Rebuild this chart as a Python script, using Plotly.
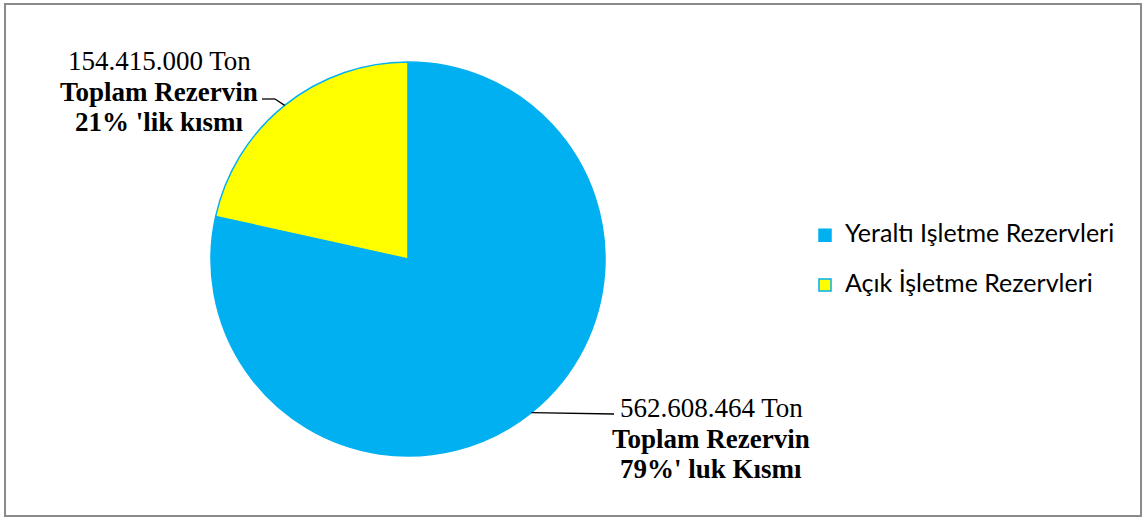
import math
import plotly.graph_objects as go

# ---- data ----
categories = ["Yeraltı Işletme Rezervleri", "Açık İşletme Rezervleri"]
values = [562608464, 154415000]
colors = ["#00B0F0", "#FFFF00"]
label_titles = ["Toplam Rezervin", "Toplam Rezervin"]
label_shares = ["79%' luk Kısmı", "21% 'lik kısmı"]

W, H = 1144, 518
CX, CY, R = 408, 259, 197  # pie centre / radius in pixels


def px(x):
    return x / W


def py(y):
    return 1 - y / H


def fmt_ton(v):
    return f"{v:,}".replace(",", ".") + " Ton"


fig = go.Figure()
fig.add_trace(go.Pie(
    labels=[f"<span style='font-size:25px'>{c}</span><br>\u00a0" for c in categories],
    values=values,
    sort=False,
    direction="clockwise",
    rotation=0,
    textinfo="none",
    hoverinfo="skip",
    marker=dict(colors=colors, line=dict(color="#00B0F0", width=1.5)),
    domain=dict(x=[px(CX - R), px(CX + R)], y=[py(CY + R), py(CY - R)]),
))

# label positions (text centres in pixels) and leader elbows
label_pos = [(711, 407), (159, 60)]
elbows = [[(614, 414)], [(275, 99), (262, 99)]]

total = sum(values)
start = 0.0
annotations = []
shapes = []
serif = "Liberation Serif, Times New Roman, serif"
for i, v in enumerate(values):
    frac = v / total
    mid = (start + frac / 2) * 2 * math.pi
    start += frac
    ax = CX + R * math.sin(mid)
    ay = CY - R * math.cos(mid)
    pts = [(ax, ay)] + elbows[i]
    for (x0, y0), (x1, y1) in zip(pts[:-1], pts[1:]):
        shapes.append(dict(type="line", xref="paper", yref="paper",
                           x0=px(x0), y0=py(y0), x1=px(x1), y1=py(y1),
                           line=dict(color="black", width=1.3)))
    lx, ly = label_pos[i]
    lines = [(fmt_ton(v), False), (label_titles[i], True), (label_shares[i], True)]
    for k, (t, bold) in enumerate(lines):
        annotations.append(dict(
            x=px(lx), y=py(ly + k * 30.5 + 1), xref="paper", yref="paper",
            text=f"<b>{t}</b>" if bold else t, showarrow=False,
            xanchor="center", yanchor="middle",
            font=dict(family=serif, size=27, color="black"),
        ))

# chart border
shapes.append(dict(type="rect", xref="paper", yref="paper",
                   x0=px(5), x1=px(1141), y0=py(516), y1=py(4),
                   line=dict(color="#8a8a8a", width=2)))

fig.update_layout(
    width=W, height=H,
    margin=dict(l=0, r=0, t=0, b=0),
    paper_bgcolor="white",
    plot_bgcolor="white",
    showlegend=True,
    legend=dict(
        x=px(805), y=py(272), xanchor="left", yanchor="middle",
        font=dict(family="Lato, Carlito, Calibri, sans-serif", size=18, color="black"),
        valign="top", traceorder="normal",
        bgcolor="rgba(0,0,0,0)",
    ),
    annotations=annotations,
    shapes=shapes,
)

fig.write_html("out.html")
